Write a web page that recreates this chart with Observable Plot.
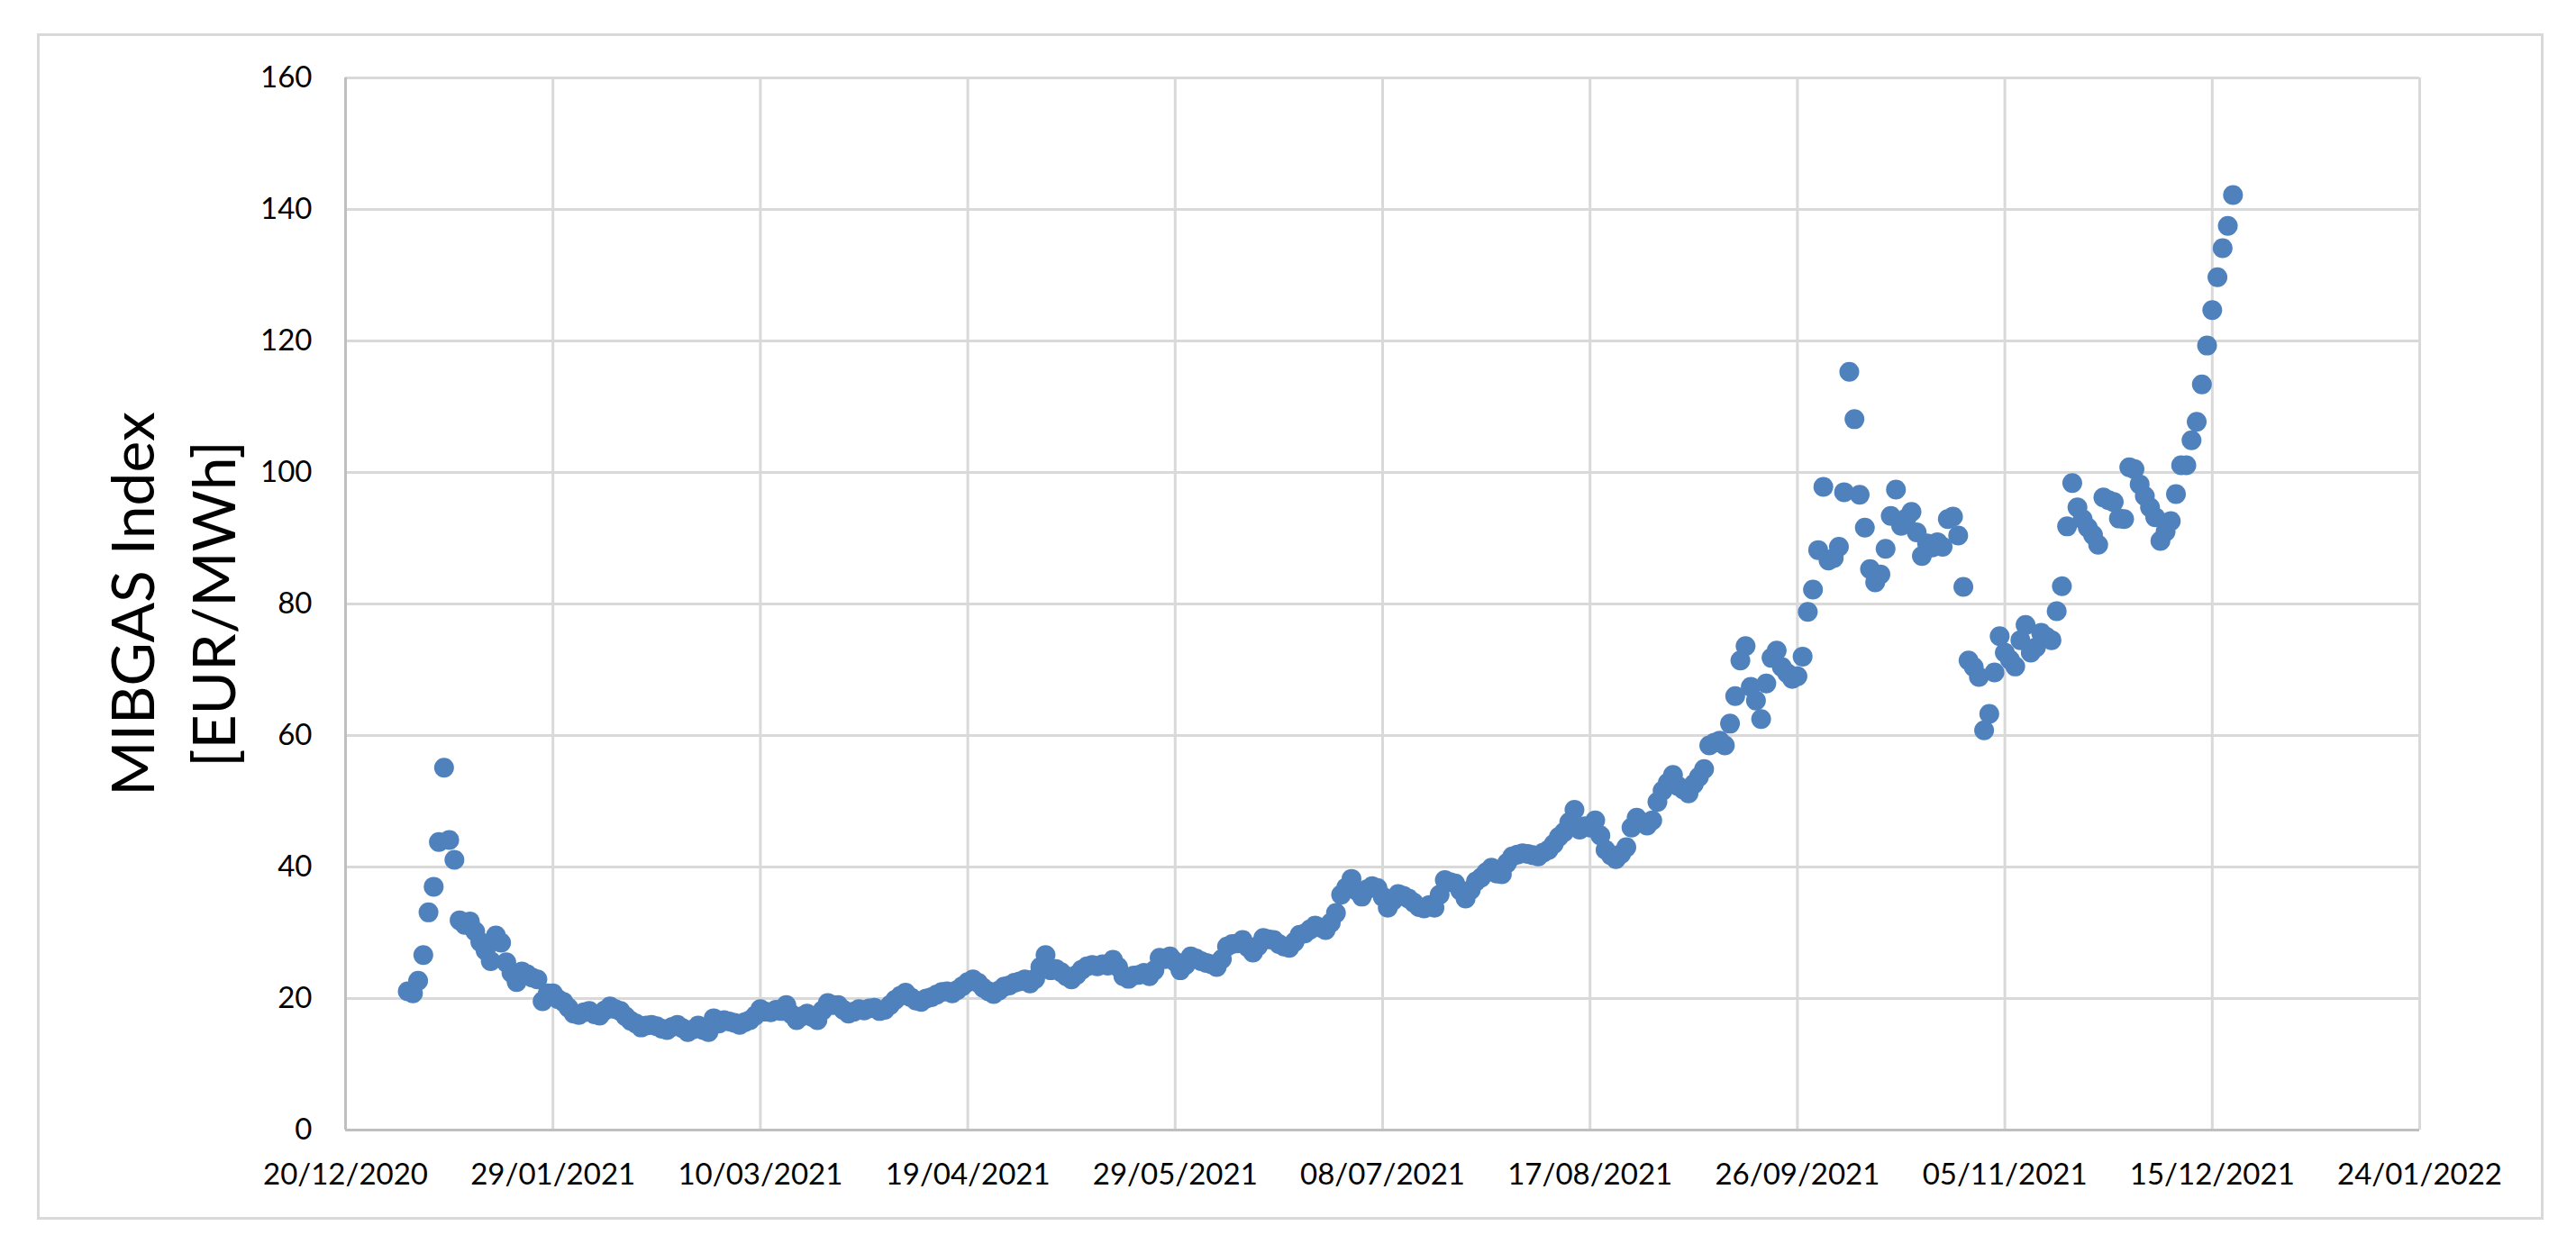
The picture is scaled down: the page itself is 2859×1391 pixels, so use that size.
<!DOCTYPE html>
<html><head><meta charset="utf-8">
<script src="https://cdn.jsdelivr.net/npm/d3@7"></script>
<script src="https://cdn.jsdelivr.net/npm/@observablehq/plot@0.6"></script>
<style>
html,body{margin:0;padding:0;background:#fff;}
#wrap{position:relative;width:2859px;height:1391px;overflow:hidden;}
#frame{position:absolute;left:41px;top:37px;width:2782px;height:1317px;border:3px solid #d9d9d9;box-sizing:border-box;pointer-events:none;}
</style></head><body><div id="wrap"><div id="frame"></div></div>
<script>
// Daily MIBGAS index values, 2021 (EUR/MWh)
const jan = [21.1,20.8,22.7,26.6,33.1,37.0,43.8,55.1,44.1,41.1,31.9,31.2,31.7,30.2,28.6,27.3,25.7,29.6,28.5,25.5,23.9,22.5,24.1,23.7,23.2,22.9,19.6,20.8,20.8,19.9,19.5];
const feb = [18.6,17.7,17.5,17.9,18.1,17.6,17.4,18.2,18.8,18.4,18.1,17.3,16.6,16.2,15.6,15.9,16.0,15.8,15.4,15.2,15.7,16.0,15.5,14.9,15.3,15.9,15.2,14.9];
const mar = [17.0,16.2,16.7,16.5,16.3,16.0,16.4,16.7,17.4,18.4,18.0,17.9,18.3,18.1,19.0,17.6,16.7,17.3,17.7,17.2,16.7,18.2,19.3,19.0,19.0,18.3,17.7,18.0,18.4,18.2,18.5];
const apr = [18.6,18.1,18.3,19.0,19.8,20.4,20.9,20.2,19.7,19.5,20.0,20.2,20.6,21.0,21.1,20.8,21.3,21.9,22.5,22.9,22.4,21.6,21.1,20.7,21.2,21.8,22.0,22.4,22.6,22.9];
const may = [22.3,23.0,24.8,26.6,24.3,24.5,24.0,23.4,22.9,23.6,24.4,24.9,25.1,24.9,25.2,25.0,25.9,24.8,23.4,23.0,23.5,23.6,23.9,23.4,24.3,26.2,26.0,26.4,25.6,24.3,25.1];
const jun = [26.4,26.1,25.7,25.4,25.2,24.8,26.0,27.9,28.3,28.4,28.9,27.8,27.0,28.0,29.2,29.0,28.9,28.3,27.9,27.7,28.6,29.7,29.9,30.5,31.1,30.8,30.4,31.5,33.0,35.8];
const jul = [36.9,38.2,36.4,35.5,36.6,37.1,36.8,35.5,33.8,34.9,35.9,35.6,35.2,34.6,33.9,33.7,34.2,33.8,35.8,38.0,37.7,37.5,36.4,35.2,36.5,37.8,38.4,39.2,39.9,39.0,38.9];
const aug = [40.6,41.6,41.9,42.1,42.0,41.8,41.6,42.2,42.6,43.5,44.6,45.3,46.8,48.7,45.7,46.2,46.0,47.1,44.8,42.6,41.8,41.2,42.0,43.0,46.0,47.5,46.8,46.3,47.1,49.9,51.6];
const sep = [52.8,54.0,52.3,51.8,51.2,52.6,53.7,54.9,58.5,58.9,59.2,58.5,61.8,66.0,71.4,73.6,67.4,65.3,62.5,67.9,71.8,72.9,70.4,69.5,68.6,69.0,72.0,78.8,82.2,88.2];
const oct = [97.8,86.6,87.0,88.7,97.0,115.3,108.1,96.6,91.6,85.3,83.3,84.5,88.4,93.4,97.4,91.9,93.0,94.0,90.9,87.3,89.2,88.6,89.4,88.7,92.9,93.3,90.4,82.6,71.4,70.4,68.9];
const nov = [60.8,63.3,69.6,75.1,72.6,71.5,70.5,74.5,76.8,72.6,73.4,75.6,75.0,74.5,78.9,82.7,91.8,98.4,94.7,92.9,91.6,90.5,89.0,96.2,95.8,95.5,93.0,92.9,100.8,100.5];
const dec = [98.2,96.4,94.7,93.2,89.6,91.0,92.6,96.7,101.1,101.1,104.9,107.7,113.4,119.3,124.7,129.7,134.1,137.5,142.2];

const xTickLabels = ["20/12/2020","29/01/2021","10/03/2021","19/04/2021","29/05/2021","08/07/2021","17/08/2021","26/09/2021","05/11/2021","15/12/2021","24/01/2022"];
const yTicks = [0,20,40,60,80,100,120,140,160];
const yTitle = "MIBGAS Index\n[EUR/MWh]";
const year = 2021;

const parse = d3.utcParse("%d/%m/%Y");
const fmt = d3.utcFormat("%d/%m/%Y");
const xTicks = xTickLabels.map(parse);
const months = [jan,feb,mar,apr,may,jun,jul,aug,sep,oct,nov,dec];
const data = months.flatMap((vals, m) => vals.map((v, k) => ({date: new Date(Date.UTC(year, m, k + 1)), value: v})));

const chart = Plot.plot({
  width: 2859, height: 1391,
  marginLeft: 383, marginRight: 174, marginTop: 86, marginBottom: 137,
  style: {fontFamily: "Lato, sans-serif", fontSize: "33px", color: "#000", background: "transparent"},
  x: {type: "utc", domain: [xTicks[0], xTicks[xTicks.length - 1]]},
  y: {domain: [0, 160]},
  marks: [
    Plot.gridX(xTicks, {stroke: "#d9d9d9", strokeOpacity: 1, strokeWidth: 3}),
    Plot.gridY(yTicks, {stroke: "#d9d9d9", strokeOpacity: 1, strokeWidth: 3}),
    Plot.ruleX([xTicks[0]], {stroke: "#bfbfbf", strokeWidth: 3}),
    Plot.ruleY([0], {stroke: "#bfbfbf", strokeWidth: 3}),
    Plot.dot(data, {x: "date", y: "value", r: 11, fill: "#4f81bd"}),
    Plot.axisX(xTicks, {tickSize: 0, tickPadding: 37, tickFormat: fmt, label: null}),
    Plot.axisY(yTicks, {tickSize: 0, tickPadding: 37, label: null}),
    Plot.text([yTitle], {frameAnchor: "left", dx: -196, rotate: -90, fontSize: 66, lineHeight: 1.35, textAnchor: "middle", fill: "#000"})
  ]
});
document.getElementById("wrap").appendChild(chart);
</script>
</body></html>
